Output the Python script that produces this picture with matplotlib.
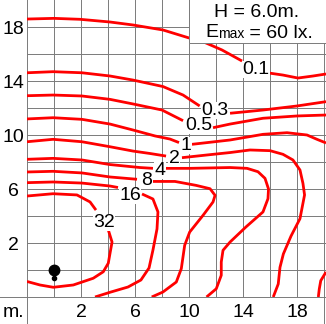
import numpy as np
import matplotlib
matplotlib.use("Agg")
from matplotlib import pyplot as plt
from matplotlib.patches import Rectangle

plt.rcParams['font.family'] = ['Liberation Sans', 'DejaVu Sans']

nan = np.nan

# curvas isolux (metros), nan = corte de la linea
c01_x = [-2, 0, 1.93, 4.15, 5.85, 8.07, 9.93, 11.04, 12.44, 13.93, nan, 15.93, 16.96, 18.07, 19.19, 20.15]
c01_y = [18.59, 18.64, 18.57, 18.37, 18.15, 17.78, 17.21, 16.91, 16.30, 15.48, nan, 14.59, 14.44, 14.22, 14.37, 14.52]

c03_x = [-2, -0.07, 2.07, 4.15, 5.85, 8.07, 9.56, 10.79, nan, 13.04, 15.48, 18.0, 20.15]
c03_y = [14.61, 14.69, 14.61, 14.37, 14.07, 13.59, 12.96, 12.15, nan, 11.61, 11.85, 12.15, 12.47]

c05_x = [-2, -0.07, 2.07, 4.15, 5.85, 8.0, 9.56, nan, 11.78, 13.04, 15.48, 18.0, 20.15]
c05_y = [12.91, 12.96, 12.89, 12.64, 12.30, 11.85, 11.06, nan, 10.54, 10.81, 11.24, 11.41, 11.48]

c1_x = [-2, -0.07, 2.07, 4.15, 5.85, 7.48, 8.59, 9.26, nan, 10.22, 13.04, 15.48, 17.26, 18.74, 19.48, 20.15,
        nan, 20.15, 19.76, 19.65, 19.58]
c1_y = [11.19, 11.28, 11.16, 10.81, 10.37, 9.93, 9.70, 9.44, nan, 9.31, 9.63, 10.05, 10.17, 10.0, 9.68, 9.41,
        nan, -0.15, -0.79, -1.41, -2.0]

c2_x = [-2, -0.07, 2.07, 4.15, 5.85, 7.11, 8.30, nan, 9.48, 11.33, 13.04, 14.52, 16.0, 16.96, 17.70, 18.22,
        18.44, 18.56, 18.22, 17.56, 16.99, 16.74, 16.61, 16.24]
c2_y = [9.50, 9.68, 9.50, 9.13, 8.81, 8.63, 8.44, nan, 8.32, 8.52, 8.70, 8.89, 8.84, 8.57, 8.15, 7.41,
        6.42, 5.56, 3.80, 2.52, 1.19, 0.20, -1.04, -2.0]

c4_x = [-2, -0.07, 2.07, 4.15, 6.37, 7.33, nan, 8.22, 10.07, 13.04, 14.30, 15.11, 15.63, 15.89, 15.85,
        15.48, 14.22, 13.04, 12.52, 12.39, 12.39, 12.02, 11.30]
c4_y = [8.20, 8.27, 8.15, 7.81, 7.59, 7.53, nan, 7.53, 7.53, 7.59, 7.53, 7.28, 6.79, 6.0, 5.28,
        4.30, 3.19, 2.07, 1.46, 0.59, -0.39, -1.39, -2.0]

c8_x = [-2, -0.07, 2.07, 4.15, 6.15, nan, 7.33, 8.96, 10.52, 11.56, 11.93, 11.78, 11.04, 10.05, 9.68,
        9.43, 9.06, 8.07, 7.24]
c8_y = [7.26, 7.31, 7.19, 6.89, 6.72, nan, 6.56, 6.56, 6.27, 6.02, 5.53, 5.04, 4.05, 2.81, 1.83,
        0.10, -0.89, -1.63, -2.0]

c16_x = [-2, -0.07, 2.07, 4.15, 4.74, nan, 6.52, 7.33, 7.70, 7.63, 7.33, 7.04, 6.44, 5.48, 4.15, 3.04]
c16_y = [6.47, 6.52, 6.44, 6.22, 6.11, nan, 5.63, 5.26, 4.30, 3.04, 1.48, 0.15, -0.74, -1.26, -1.65, -2.0]

c32_x = [-2, -0.07, 1.70, 2.67, 3.11, nan, 4.0, 4.30, 4.15, 4.02, 3.65, 2.91, 1.43, -0.05, -1.04, -2]
c32_y = [5.48, 5.65, 5.56, 5.04, 4.44, nan, 3.04, 2.07, 1.24, 0.50, -0.13, -0.61, -1.11, -1.28, -1.11, -0.85]

curvas_x = [c01_x, c03_x, c05_x, c1_x, c2_x, c4_x, c8_x, c16_x, c32_x]
curvas_y = [c01_y, c03_y, c05_y, c1_y, c2_y, c4_y, c8_y, c16_y, c32_y]

niveles = ['0.1', '0.3', '0.5', '1', '2', '4', '8', '16', '32']
etiqueta_x = [14.96, 11.89, 10.70, 9.78, 8.89, 7.85, 6.89, 5.63, 3.70]
etiqueta_y = [14.52, 11.48, 10.37, 8.89, 7.93, 7.04, 6.30, 5.19, 3.19]

ticks = [2, 6, 10, 14, 18]
luminaria = (0, 0)

fig = plt.figure(figsize=(3.26, 3.24), dpi=100)
ax = fig.add_axes([27 / 326, 27 / 324, 299 / 326, 297 / 324])
ax.set_xlim(-2, -2 + 299 / 13.5)
ax.set_ylim(-2, 20)
ax.axis('off')

gris = '#7a7a7a'
xmax = -2 + 299 / 13.5
for g in range(0, 20, 2):
    ax.plot([g, g], [-2, 20], color=gris, lw=0.7, zorder=1)
for g in range(0, 20, 2):
    ax.plot([-2, xmax], [g, g], color=gris, lw=0.7, zorder=1)

# bordes de la tabla
ax.plot([-2, -2], [-4, 20], color=gris, lw=0.7, clip_on=False, zorder=1)
ax.plot([20, 20], [-4, 20], color=gris, lw=0.7, clip_on=False, zorder=1)
ax.plot([-4, xmax], [-2, -2], color=gris, lw=0.7, clip_on=False, zorder=1)

for cx, cy in zip(curvas_x, curvas_y):
    ax.plot(cx, cy, color='#ff0000', lw=2.0, zorder=2, solid_capstyle='butt')

for n, lx, ly in zip(niveles, etiqueta_x, etiqueta_y):
    ax.text(lx, ly, n, fontsize=14, ha='center', va='baseline', zorder=4,
            bbox=dict(boxstyle='square,pad=0.02', fc='white', ec='none'))

for t in ticks:
    ax.text(t, -3.5, str(t), fontsize=14, ha='center', va='baseline', clip_on=False)
    ax.text(-3, t - 0.5, str(t), fontsize=14, ha='center', va='baseline', clip_on=False)
ax.text(-3, -3.5, 'm.', fontsize=14, ha='center', va='baseline', clip_on=False)

# luminaria
ax.plot(luminaria[0], luminaria[1], 'o', color='black', ms=7.5, zorder=5)
ax.plot(luminaria[0], luminaria[1] - 0.6, 'o', color='black', ms=3, zorder=5)

# cuadro de datos
ax.add_patch(Rectangle((10, 16.8), 11, 4, fc='white', ec=gris, lw=0.7, zorder=3, clip_on=False))
ax.text(15.0, 18.76, 'H = 6.0m.', fontsize=14, ha='center', va='baseline', zorder=4)
t1 = ax.text(11.19, 17.24, 'E', fontsize=14, ha='left', va='baseline', zorder=4)
t2 = ax.annotate('max', xy=(1, 0), xycoords=t1, fontsize=10, ha='left', va='bottom', zorder=4)
ax.annotate(' = 60 lx.', xy=(1, 0), xycoords=t2, fontsize=14, ha='left', va='bottom', zorder=4,
            xytext=(0, -1), textcoords='offset pixels')

plt.savefig('out.png', dpi=100)
plt.close()
